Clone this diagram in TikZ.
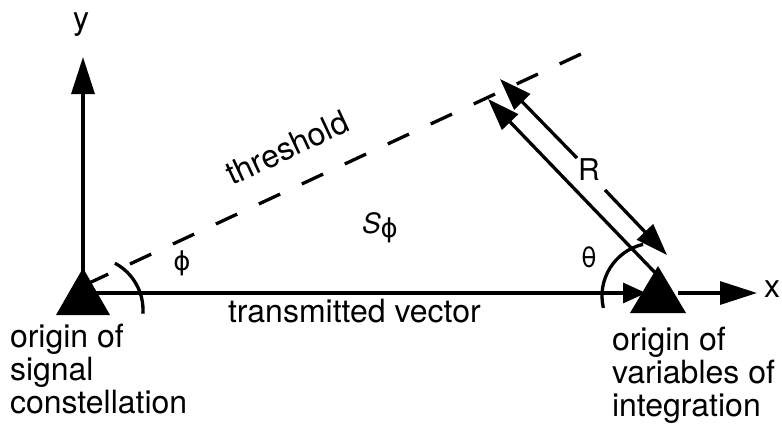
\documentclass[tikz,border=0pt]{standalone}
\usepackage{fontspec}
\setmainfont{TeX Gyre Heros}
\newfontfamily\grkfont{DejaVu Sans}
\usetikzlibrary{arrows.meta}
\begin{document}
\begin{tikzpicture}[x=1pt,y=-1pt,
  ln/.style={line width=3.3pt},
  lbl/.style={font=\fontsize{32}{33}\selectfont, inner sep=0pt, outer sep=0pt},
  grk/.style={font=\fontsize{28}{30}\selectfont, inner sep=0pt, outer sep=0pt},
  axtip/.style={-{Triangle[length=37pt,width=23pt]}},
  rtip/.style={-{Triangle[length=32pt,width=22pt]}},
  vtip/.style={-{Triangle[length=23pt,width=20pt]}},
  thresh/.style={ln,dash pattern=on 23.4pt off 24pt}]
\useasboundingbox (0,0) rectangle (782,429);
% named points
\coordinate (O1) at (83,293);
\coordinate (O2) at (658,293);
\coordinate (Ytip) at (83,57);
\coordinate (Xstart) at (678,293);
\coordinate (Xtip) at (757,293);
\coordinate (Vtip) at (646,293);
\coordinate (Tstart) at (87,284);
\coordinate (Tend) at (581,54);
\coordinate (Rbase) at (665,283);
\coordinate (Rtip) at (488,99);
\coordinate (Ua) at (577,158);
\coordinate (Ub) at (500,79);
\coordinate (La) at (605,190);
\coordinate (Lb) at (667,255);
\coordinate (C1) at (90,310);
\coordinate (C2) at (655,296);
% axes and vectors
\draw[ln,axtip] (O1) -- (Ytip);
\draw[ln,vtip] (O1) -- (Vtip);
\draw[ln,axtip] (Xstart) -- (Xtip);
\draw[thresh] (Tstart) -- (Tend);
\draw[ln,rtip] (Rbase) -- (Rtip);
\draw[ln,rtip] (Ua) -- (Ub);
\draw[ln,rtip] (La) -- (Lb);
% angle arcs
\draw[ln] ([shift={(-62:53)}]C1) arc[start angle=-62,end angle=4,radius=53];
\draw[ln] ([shift={(167:53)}]C2) arc[start angle=167,end angle=257,radius=53];
% origins
\fill (83,268) -- (56,315) -- (110,315) -- cycle;
\fill (658,266) -- (630,313) -- (686,313) -- cycle;
% labels
\node[lbl,anchor=base] (ylab) at (81,29) {y};
\node[lbl,anchor=base] (xlab) at (772,297) {x};
\node[lbl,anchor=base,rotate=25] (thr) at (292,158) {threshold};
\node[lbl,anchor=base west] (tv) at (228,322) {transmitted vector};
\node[lbl,anchor=base west,align=left] (lorig) at (10,413) {origin of\\signal\\constellation};
\node[lbl,anchor=base west,align=left] (rorig) at (612,416) {origin of\\variables of\\integration};
\node[grk] (phi) at (182,263) {\grkfont\fontsize{26}{28}\selectfont ϕ};
\node[grk] (theta) at (589,257) {θ};
\node[lbl,font=\fontsize{30}{30}\selectfont] (R) at (589,170) {R};
\node[grk,anchor=base west] (S) at (362,233) {\itshape S\raisebox{-4pt}{\upshape\grkfont\fontsize{26}{28}\selectfont ϕ}};
\end{tikzpicture}
\end{document}
